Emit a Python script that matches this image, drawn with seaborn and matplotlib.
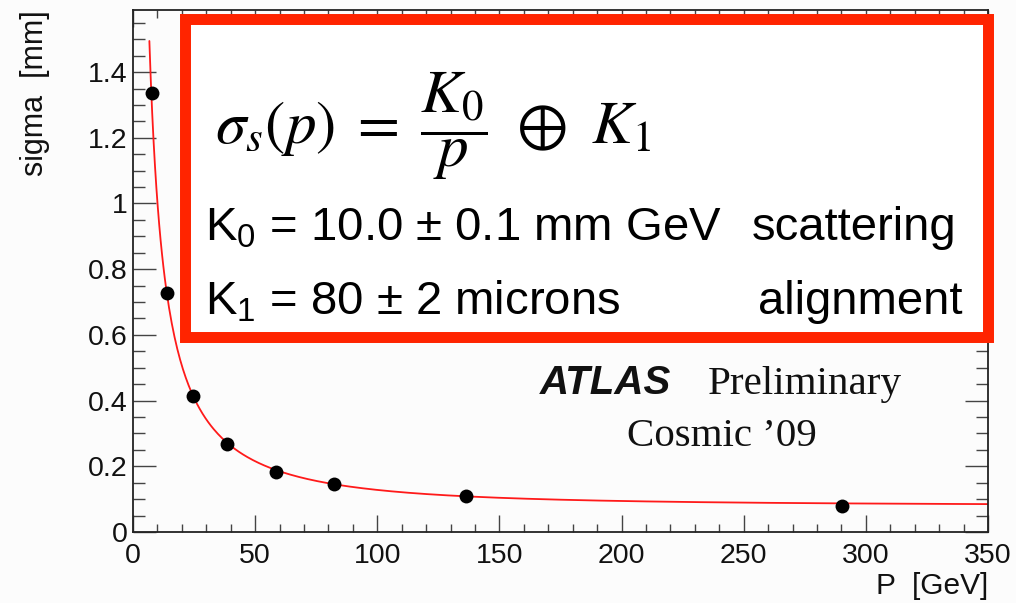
import numpy as np
import pandas as pd
import matplotlib
matplotlib.use("Agg")
import matplotlib.pyplot as plt
from matplotlib.patches import Rectangle
from matplotlib.ticker import MultipleLocator
import seaborn as sns

# ---- data ----
momentum_gev = [7.9, 14.0, 24.5, 38.5, 58.6, 82.3, 136.2, 290.3]
sigma_mm = [1.336, 0.727, 0.414, 0.268, 0.183, 0.146, 0.110, 0.080]

# fit parameters quoted on the chart
K0_mm_gev = 10.0
K1_mm = 0.080
fit_range = [6.7, 350.0]

x_ticks = [0, 50, 100, 150, 200, 250, 300, 350]
y_ticks = [0, 0.2, 0.4, 0.6, 0.8, 1.0, 1.2, 1.4]
x_tick_labels = ["0", "50", "100", "150", "200", "250", "300", "350"]
y_tick_labels = ["0", "0.2", "0.4", "0.6", "0.8", "1", "1.2", "1.4"]

df = pd.DataFrame({"P": momentum_gev, "sigma": sigma_mm})
p_fit = np.linspace(fit_range[0], fit_range[1], 600)
fit_df = pd.DataFrame({"P": p_fit,
                       "sigma": np.sqrt((K0_mm_gev / p_fit) ** 2 + K1_mm ** 2)})

sns.set_theme(style="ticks")
plt.rcParams["font.family"] = ["Liberation Sans", "DejaVu Sans"]

W, H = 1016, 603
fig = plt.figure(figsize=(W / 100, H / 100), dpi=100, facecolor="#fcfcfc")
ax = fig.add_axes([133 / W, 1 - 532 / H, 855 / W, 522 / H])
ax.set_facecolor("#fcfcfc")

sns.lineplot(data=fit_df, x="P", y="sigma", ax=ax, color="#ff1a1a",
             linewidth=1.3, zorder=2)
sns.scatterplot(data=df, x="P", y="sigma", ax=ax, color="black", s=100,
                edgecolor="black", linewidth=0, zorder=3)

ax.set_xlim(0, 350)
ax.set_ylim(0, 1.589)
ax.set_xticks(x_ticks)
ax.set_xticklabels(x_tick_labels)
ax.set_yticks(y_ticks)
ax.set_yticklabels(y_tick_labels)
ax.xaxis.set_minor_locator(MultipleLocator(10))
ax.yaxis.set_minor_locator(MultipleLocator(0.05))

for sp in ax.spines.values():
    sp.set_visible(True)
    sp.set_color("#222222")
    sp.set_linewidth(1.3)

ax.tick_params(axis="both", which="both", direction="in", top=True, right=True,
               color="#444444", labelsize=20.5, labelcolor="#111111")
ax.tick_params(axis="x", which="major", length=12.5, width=1.0, pad=8)
ax.tick_params(axis="x", which="minor", length=6, width=1.0)
ax.tick_params(axis="y", which="major", length=16.5, width=1.0, pad=4)
ax.tick_params(axis="y", which="minor", length=8.5, width=1.0)

ax.set_xlabel("P  [GeV]", fontsize=21.5, loc="right", color="#111111")
ax.set_ylabel("sigma  [mm]", fontsize=22, loc="top", color="#111111")
ax.xaxis.set_label_coords(1.0, (532 - 572) / 522)
ax.yaxis.set_label_coords((50 - 133) / 855, 1.0)

# ---- ATLAS label ----
fig.text(540 / W, 1 - 394 / H, "ATLAS", fontsize=29, fontweight="bold",
         fontstyle="italic", family=["Liberation Sans"], va="baseline",
         color="#111111", zorder=4)
fig.text(708 / W, 1 - 394 / H, "Preliminary", fontsize=29.5,
         family=["Liberation Serif"], va="baseline", color="#111111", zorder=4)
fig.text(627 / W, 1 - 446 / H, "Cosmic \u201909", fontsize=29.5,
         family=["Liberation Serif"], va="baseline", color="#111111", zorder=4)

# ---- red highlighted box ----
box = Rectangle((184.5 / W, 1 - 336.5 / H), 803 / W, 318 / H,
                transform=fig.transFigure, facecolor="white",
                edgecolor="#ff2400", linewidth=7.9, zorder=10)
fig.add_artist(box)

fig.text(433 / W, 1 - 126 / H,
         r"$\sigma_s(p)\;=\;\dfrac{K_0}{p}\ \oplus\ K_1$",
         fontsize=44, math_fontfamily="stix", ha="center", va="center",
         color="black", zorder=11)
fig.text(205 / W, 1 - 240 / H, r"K$_\mathregular{0}$ = 10.0 ± 0.1 mm GeV",
         fontsize=34, va="baseline", color="black", zorder=11)
fig.text(752 / W, 1 - 240 / H, "scattering",
         fontsize=34, va="baseline", color="black", zorder=11)
fig.text(205 / W, 1 - 314 / H, r"K$_\mathregular{1}$ = 80 ± 2 microns",
         fontsize=34, va="baseline", color="black", zorder=11)
fig.text(962 / W, 1 - 314 / H, "alignment", ha="right",
         fontsize=34, va="baseline", color="black", zorder=11)

fig.savefig("out.png", dpi=100, facecolor=fig.get_facecolor())
